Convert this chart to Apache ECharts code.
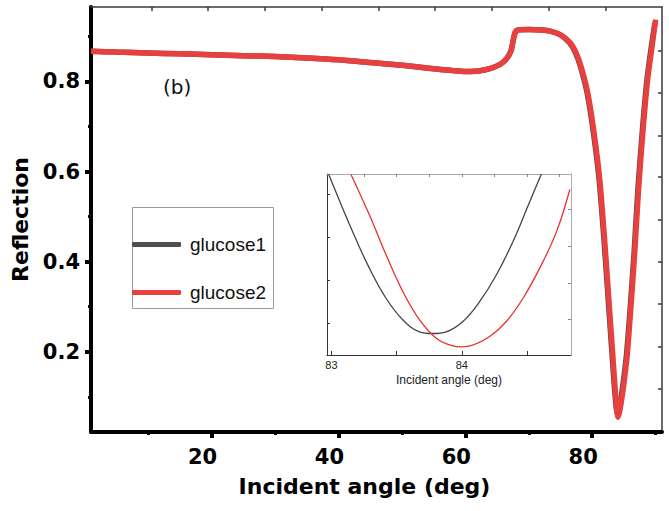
<!DOCTYPE html>
<html>
<head>
<meta charset="utf-8">
<script src="https://cdn.jsdelivr.net/npm/echarts@6/dist/echarts.min.js"></script>
<style>html,body{margin:0;padding:0;background:#fff;}#c{width:669px;height:511px;}</style>
</head>
<body>
<div id="c"></div>
<script>
// ---- data ----
const seriesNames = ['glucose1', 'glucose2'];
// main panel: incident angle (deg) vs reflection
const g1Main = [
  [1,0.867],[5,0.865],[10,0.863],[15,0.861],[20,0.859],[25,0.857],[30,0.855],[35,0.852],
  [40,0.848],[45,0.842],[50,0.836],[55,0.828],[58,0.824],[60,0.822],[62,0.823],[64,0.829],
  [65.5,0.838],[66.5,0.850],[67.2,0.868],[67.6,0.895],[67.9,0.910],[68.3,0.914],[70,0.915],
  [72,0.914],[73.5,0.911],[75,0.903],[76.4,0.886],[77.4,0.862],[78.2,0.83],[79.2,0.774],
  [80.2,0.685],[81.1,0.58],[81.9,0.44],[82.6,0.30],[83.0,0.22],[83.4,0.14],[83.7,0.088],
  [83.95,0.064],[84.2,0.072],[84.5,0.094],[84.9,0.133],[85.4,0.193],[86.0,0.30],[86.6,0.42],
  [87.2,0.56],[87.9,0.69],[88.6,0.80],[89.3,0.875],[89.9,0.93]
];
const g2Main = [
  [1,0.867],[5,0.865],[10,0.863],[15,0.861],[20,0.859],[25,0.857],[30,0.855],[35,0.852],
  [40,0.848],[45,0.842],[50,0.836],[55,0.828],[58,0.824],[60,0.822],[62,0.823],[64,0.829],
  [65.5,0.838],[66.5,0.850],[67.2,0.868],[67.6,0.895],[67.9,0.910],[68.3,0.914],[70,0.915],
  [72,0.914],[73.5,0.911],[75,0.903],[76.5,0.886],[77.5,0.862],[78.3,0.83],[79.3,0.774],
  [80.3,0.685],[81.2,0.58],[82.0,0.44],[82.7,0.30],[83.1,0.22],[83.5,0.14],[83.8,0.082],
  [84.05,0.055],[84.3,0.066],[84.6,0.09],[85.0,0.13],[85.5,0.19],[86.1,0.30],[86.7,0.42],
  [87.3,0.56],[88.0,0.69],[88.7,0.80],[89.4,0.875],[90.0,0.937]
];
// inset: zoom on the resonance dip
const g1Inset = [
  [82.978,0.0948],[83.162,0.0814],[83.291,0.0729],[83.419,0.0659],[83.547,0.0609],
  [83.675,0.0581],[83.778,0.0577],[83.881,0.0581],[84.009,0.0605],[84.137,0.0651],
  [84.265,0.0713],[84.393,0.0791],[84.522,0.0884],[84.611,0.0948]
];
const g2Inset = [
  [83.150,0.0947],[83.291,0.0853],[83.419,0.0760],[83.547,0.0675],[83.675,0.0609],
  [83.804,0.0566],[83.932,0.0548],[83.996,0.0546],[84.085,0.0550],[84.214,0.0570],
  [84.342,0.0605],[84.470,0.0659],[84.598,0.0729],[84.727,0.0814],[84.829,0.0912]
];
// tick labels / tick positions
const xMajorTicks = [20, 40, 60, 80];
const xMinorTicks = [10, 30, 50, 70, 90];
const xTopTicks = [10.5, 19.4, 28.4, 37.3, 46.3, 55.2, 64.2, 73.1, 82.1];
const yMajorTicks = [0.2, 0.4, 0.6, 0.8];
const yMinorTicks = [0.1, 0.3, 0.5, 0.7, 0.9];
const yRightTicks = [0.117, 0.211, 0.306, 0.400, 0.493, 0.588, 0.679, 0.774, 0.868];
const insetXLabels = [83, 84];
const insetXBottomTicks = [83, 83.5, 84, 84.5];
const insetXTopTicks = [83.25, 83.5, 83.75, 84, 84.25, 84.5, 84.75];
const insetYLeftTicks = [0.06, 0.07, 0.08, 0.09];
const insetYRightTicks = [0.0611, 0.0694, 0.078, 0.0865];
const panelLabel = '(b)';
const xTitle = 'Incident angle (deg)';
const yTitle = 'Reflection';

// ---- styles ----
const RED = '#e8403e', GRAY = '#4f4f4f';
const boldFont = 'DejaVu Sans';
const chart = echarts.init(document.getElementById('c'), null, {renderer: 'svg'});

const X0 = 1, X1 = 91, Y0 = 0.022, Y1 = 0.965;
const IX0 = 82.966, IX1 = 84.838, IY0 = 0.0527, IY1 = 0.0948;

function hidden(extra) {
  return Object.assign({axisLine:{show:false}, axisLabel:{show:false}, splitLine:{show:false}, axisTick:{show:false}}, extra);
}

const option = {
  backgroundColor: '#ffffff',
  animation: false,
  grid: [
    {left: 91, top: 7, right: 7, bottom: 79},
    {left: 327, top: 174, right: 98, bottom: 156}
  ],
  legend: {
    data: seriesNames,
    orient: 'vertical',
    left: 132, top: 207,
    padding: [28, 6, 0, 0],
    itemWidth: 49, itemHeight: 5, itemGap: 29,
    icon: 'roundRect',
    textStyle: {fontFamily: 'Liberation Sans', fontSize: 19, color: '#111', padding: [0, 0, 0, 4]}
  },
  xAxis: [
    { type: 'value', gridIndex: 0, position: 'bottom', min: X0, max: X1,
      axisLine: {show: true, onZero: false, lineStyle: {color: '#000', width: 4}},
      axisTick: {show: true, inside: false, length: 6, lineStyle: {color: '#000', width: 4}, customValues: xMajorTicks},
      axisLabel: {show: true, customValues: xMajorTicks, margin: 14, fontFamily: boldFont, fontWeight: 'bold', fontSize: 21, color: '#000', padding: [0, 18, 0, 0]},
      splitLine: {show: false},
      name: xTitle, nameLocation: 'middle', nameGap: 43,
      nameTextStyle: {fontFamily: boldFont, fontWeight: 'bold', fontSize: 22, color: '#000', padding: [0, 24, 0, 0]}
    },
    hidden({ type: 'value', gridIndex: 0, position: 'bottom', min: X0, max: X1,
      axisTick: {show: true, inside: false, length: 3, lineStyle: {color: '#000', width: 3}, customValues: xMinorTicks} }),
    hidden({ type: 'value', gridIndex: 0, position: 'top', min: X0, max: X1,
      axisLine: {show: true, onZero: false, lineStyle: {color: '#3a3a3a', width: 1.5}},
      axisTick: {show: true, inside: true, length: 4, lineStyle: {color: '#3a3a3a', width: 1.5}, customValues: xTopTicks} }),
    { type: 'value', gridIndex: 1, position: 'bottom', min: IX0, max: IX1,
      axisLine: {show: true, onZero: false, lineStyle: {color: '#333', width: 1}},
      axisTick: {show: true, inside: true, length: 4, lineStyle: {color: '#333', width: 1}, customValues: insetXBottomTicks},
      axisLabel: {show: true, customValues: insetXLabels, margin: 4, fontFamily: 'Liberation Sans', fontSize: 11, color: '#222'},
      splitLine: {show: false},
      name: xTitle, nameLocation: 'middle', nameGap: 19,
      nameTextStyle: {fontFamily: 'Liberation Sans', fontSize: 12, color: '#222'}
    },
    hidden({ type: 'value', gridIndex: 1, position: 'top', min: IX0, max: IX1,
      axisLine: {show: true, onZero: false, lineStyle: {color: '#aaa', width: 1}},
      axisTick: {show: true, inside: true, length: 3, lineStyle: {color: '#888', width: 1}, customValues: insetXTopTicks} })
  ],
  yAxis: [
    { type: 'value', gridIndex: 0, position: 'left', min: Y0, max: Y1,
      axisLine: {show: true, onZero: false, lineStyle: {color: '#000', width: 4}},
      axisTick: {show: true, inside: false, length: 6, lineStyle: {color: '#000', width: 4}, customValues: yMajorTicks},
      axisLabel: {show: true, customValues: yMajorTicks, margin: 11, formatter: v => v.toFixed(1), fontFamily: boldFont, fontWeight: 'bold', fontSize: 21, color: '#000'},
      splitLine: {show: false},
      name: yTitle, nameLocation: 'middle', nameGap: 56, nameRotate: 90,
      nameTextStyle: {fontFamily: boldFont, fontWeight: 'bold', fontSize: 22, color: '#000'}
    },
    hidden({ type: 'value', gridIndex: 0, position: 'left', min: Y0, max: Y1,
      axisTick: {show: true, inside: false, length: 3, lineStyle: {color: '#000', width: 3}, customValues: yMinorTicks} }),
    hidden({ type: 'value', gridIndex: 0, position: 'right', min: Y0, max: Y1,
      axisLine: {show: true, onZero: false, lineStyle: {color: '#3a3a3a', width: 1.5}},
      axisTick: {show: true, inside: true, length: 4, lineStyle: {color: '#3a3a3a', width: 1.5}, customValues: yRightTicks} }),
    hidden({ type: 'value', gridIndex: 1, position: 'left', min: IY0, max: IY1,
      axisLine: {show: true, onZero: false, lineStyle: {color: '#333', width: 1}},
      axisTick: {show: true, inside: true, length: 3, lineStyle: {color: '#333', width: 1}, customValues: insetYLeftTicks} }),
    hidden({ type: 'value', gridIndex: 1, position: 'right', min: IY0, max: IY1,
      axisLine: {show: true, onZero: false, lineStyle: {color: '#aaa', width: 1}},
      axisTick: {show: true, inside: true, length: 3, lineStyle: {color: '#888', width: 1}, customValues: insetYRightTicks} })
  ],
  graphic: [
    {type: 'text', left: 163, top: 77, style: {text: panelLabel, fontFamily: 'DejaVu Sans', fontSize: 20, fill: '#111'}},
    {type: 'rect', shape: {x: 132.5, y: 207.5, width: 141, height: 101}, style: {fill: 'none', stroke: '#9a9a9a', lineWidth: 1}, z: 0}
  ],
  series: [
    {name: seriesNames[0], type: 'line', xAxisIndex: 0, yAxisIndex: 0, data: g1Main, showSymbol: false, symbol: 'none',
     smooth: 0.25, color: GRAY, lineStyle: {color: GRAY, width: 5.5}, z: 3},
    {name: seriesNames[1], type: 'line', xAxisIndex: 0, yAxisIndex: 0, data: g2Main, showSymbol: false, symbol: 'none',
     smooth: 0.25, color: RED, lineStyle: {color: RED, width: 5.5}, z: 4},
    {name: seriesNames[0], type: 'line', xAxisIndex: 3, yAxisIndex: 3, data: g1Inset, showSymbol: false, symbol: 'none',
     smooth: 0.4, color: GRAY, lineStyle: {color: '#444', width: 1.3}, z: 5, clip: true},
    {name: seriesNames[1], type: 'line', xAxisIndex: 3, yAxisIndex: 3, data: g2Inset, showSymbol: false, symbol: 'none',
     smooth: 0.4, color: RED, lineStyle: {color: '#e8302c', width: 1.3}, z: 6, clip: true}
  ]
};
chart.setOption(option);
</script>
</body>
</html>
